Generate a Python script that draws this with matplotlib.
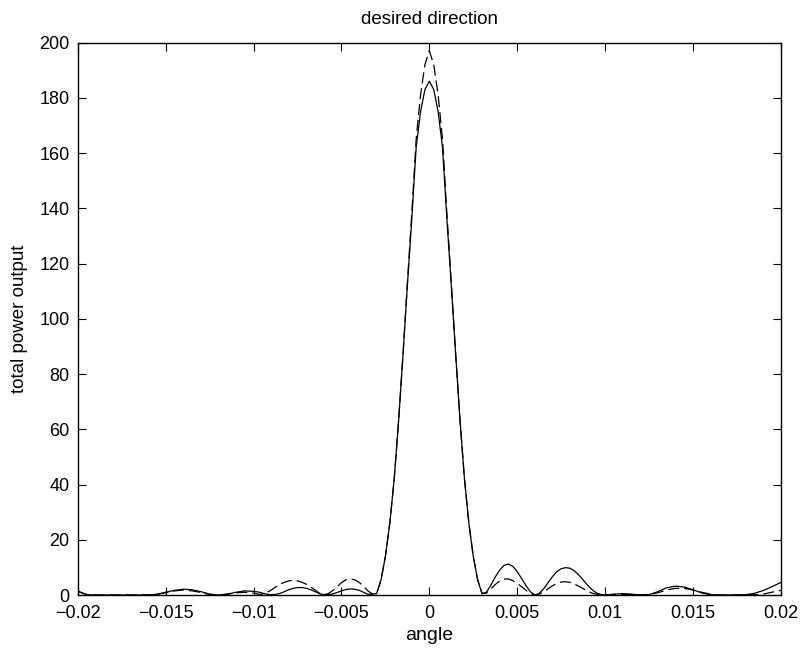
import matplotlib
matplotlib.use("Agg")
import matplotlib.pyplot as plt

plt.rcParams['font.family'] = ['Liberation Sans', 'DejaVu Sans']
plt.rcParams['lines.scale_dashes'] = False

angle = [
    -0.02, -0.0195, -0.019, -0.0185, -0.018, -0.0175, -0.017, -0.0165, -0.016, -0.0155,
    -0.015, -0.0145, -0.014, -0.0135, -0.013, -0.0125, -0.012, -0.0115, -0.011, -0.0105, -0.01,
    -0.00975, -0.0095, -0.00925, -0.009, -0.00875, -0.0085, -0.00825, -0.008, -0.00775,
    -0.0075, -0.00725, -0.007, -0.00675, -0.0065, -0.00625, -0.006, -0.00575, -0.0055,
    -0.00525, -0.005, -0.00475, -0.0045, -0.00425, -0.004, -0.00375, -0.0035, -0.00325,
    -0.003, -0.00275, -0.0025, -0.00225, -0.002, -0.00175, -0.0015, -0.00125, -0.001,
    -0.00075, -0.0005, -0.00025, 0.0, 0.00025, 0.0005, 0.00075, 0.001, 0.00125, 0.0015,
    0.00175, 0.002, 0.00225, 0.0025, 0.00275, 0.003,
    0.00325, 0.0035, 0.00375, 0.004, 0.00425, 0.0045, 0.00475, 0.005, 0.00525, 0.0055,
    0.00575, 0.006, 0.00625, 0.0065, 0.00675, 0.007, 0.00725, 0.0075, 0.00775, 0.008,
    0.00825, 0.0085, 0.00875, 0.009, 0.00925, 0.0095, 0.00975,
    0.01, 0.0105, 0.011, 0.0115, 0.012, 0.0125, 0.013, 0.0135, 0.014, 0.0145,
    0.015, 0.0155, 0.016, 0.0165, 0.017, 0.0175, 0.018, 0.0185, 0.019, 0.0195, 0.02]

power_solid = [
    1.4, 0.1, 0.0, 0.0, 0.0, 0.0, 0.0, 0.0, 0.0, 0.3,
    1.0, 1.7, 2.1, 1.9, 1.2, 0.3, 0.0, 0.3, 1.0, 1.5, 1.3,
    1.1, 0.7, 0.3, 0.1, 0.2, 0.6, 1.2, 1.9, 2.4,
    2.7, 2.7, 2.4, 1.9, 1.2, 0.5, 0.1, 0.1, 0.4,
    0.9, 1.5, 2.0, 2.2, 2.1, 1.7, 1.0, 0.3, 0.3,
    0.5, 5.5, 14.0, 26.0, 42.0, 63.0, 87.0, 112.0, 136.0,
    162.0, 175.0, 183.0, 186.0, 183.0, 175.0, 162.0, 136.0, 112.0, 87.0,
    63.0, 42.0, 26.0, 14.0, 5.5, 0.5,
    1.0, 3.5, 6.5, 9.0, 10.7, 11.2, 10.4, 8.5, 6.0, 3.4,
    1.2, 0.0, 0.6, 2.2, 4.4, 6.6, 8.4, 9.5, 9.9, 9.7,
    8.8, 7.3, 5.5, 3.6, 2.0, 0.8, 0.2,
    0.0, 0.3, 0.5, 0.3, 0.0, 0.1, 1.2, 2.6, 3.2, 2.9,
    1.9, 0.8, 0.1, 0.0, 0.0, 0.0, 0.1, 0.6, 1.6, 3.0, 4.5]

power_dashed = [
    1.2, 0.2, 0.0, 0.0, 0.0, 0.0, 0.0, 0.0, 0.0, 0.2,
    0.8, 1.5, 1.8, 1.5, 0.9, 0.2, 0.0, 0.3, 0.8, 1.0, 0.7,
    0.3, 0.3, 0.9, 1.8, 2.9, 3.9, 4.6, 5.1, 5.3,
    5.1, 4.6, 3.9, 2.9, 1.8, 0.6, 0.1, 0.5, 1.6,
    3.0, 4.5, 5.5, 5.8, 5.5, 4.6, 3.2, 1.5, 0.4,
    0.5, 5.5, 14.0, 26.0, 42.0, 63.0, 87.0, 113.0, 138.0,
    165.0, 181.0, 192.0, 197.0, 192.0, 181.0, 165.0, 138.0, 113.0, 87.0,
    63.0, 42.0, 26.0, 14.0, 5.5, 0.5,
    0.7, 2.2, 3.8, 5.1, 5.8, 5.8, 5.2, 4.2, 3.0, 1.7,
    0.6, 0.0, 0.3, 1.1, 2.2, 3.3, 4.2, 4.7, 4.8, 4.6,
    4.0, 3.2, 2.3, 1.4, 0.7, 0.3, 0.1,
    0.0, 0.2, 0.2, 0.2, 0.1, 0.2, 0.8, 1.8, 2.4, 2.4,
    1.8, 1.0, 0.3, 0.0, 0.0, 0.0, 0.0, 0.1, 0.3, 1.0, 1.7]

xticks = [-0.02, -0.015, -0.01, -0.005, 0, 0.005, 0.01, 0.015, 0.02]
xticklabels = ['\u22120.02', '\u22120.015', '\u22120.01', '\u22120.005', '0',
               '0.005', '0.01', '0.015', '0.02']
yticks = [0, 20, 40, 60, 80, 100, 120, 140, 160, 180, 200]

fig = plt.figure(figsize=(8.04, 6.55), dpi=100)
ax = fig.add_axes([0.097, 0.0916, 0.874, 0.8435])

ax.plot(angle, power_solid, color='black', linewidth=0.9, linestyle='-')
ax.plot(angle, power_dashed, color='black', linewidth=0.9, linestyle=(0, (8, 3.5)))

ax.set_xlim(-0.02, 0.02)
ax.set_ylim(0, 200)
ax.set_xticks(xticks)
ax.set_xticklabels(xticklabels)
ax.set_yticks(yticks)
ax.tick_params(direction='in', length=6, width=0.8, top=True, right=True,
               labelsize=13)
ax.tick_params(axis='x', pad=7.5)
ax.tick_params(axis='y', pad=6)
for s in ax.spines.values():
    s.set_linewidth(1.0)

ax.set_title('desired direction', fontsize=13.5, pad=13)
ax.set_xlabel('angle', fontsize=14, labelpad=3)
ax.set_ylabel('total power output', fontsize=13.5, labelpad=8)

fig.savefig('out.png', dpi=100)
